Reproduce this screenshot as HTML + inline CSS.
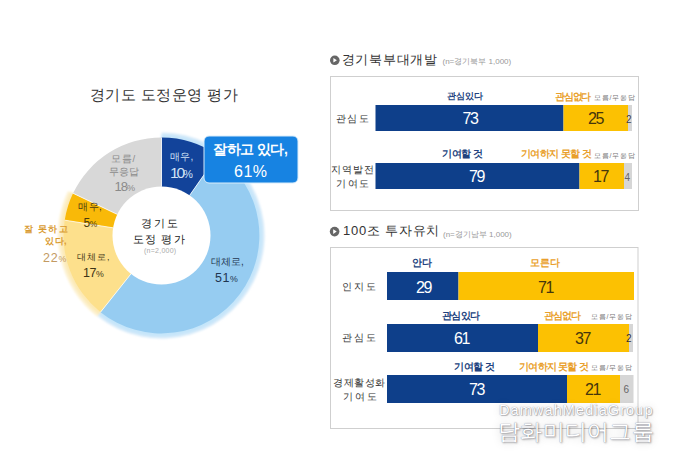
<!DOCTYPE html>
<html><head><meta charset="utf-8">
<style>
*{margin:0;padding:0;box-sizing:border-box}
html,body{width:680px;height:465px;background:#fff;overflow:hidden}
body{position:relative;font-family:"Liberation Sans",sans-serif;color:#333}
.a{position:absolute;white-space:nowrap;line-height:1}
svg{position:absolute;left:0;top:0}
small{font-size:0.7em}
#wm1{text-shadow:0 0 1px rgba(70,70,100,.7),1px 1px 1px rgba(0,0,0,.25),0 0 8px rgba(0,0,0,.2)}
#wm2{text-shadow:0 0 1px rgba(70,70,100,.75),1px 1px 2px rgba(0,0,0,.3),0 0 10px rgba(0,0,0,.22)}
</style></head><body>
<svg width="680" height="465" viewBox="0 0 680 465">
<!-- donut halo -->
<defs><filter id="hb" x="-10%" y="-10%" width="120%" height="120%"><feGaussianBlur stdDeviation="0.9"/></filter></defs>
<g filter="url(#hb)">
<path d="M161.50,132.50 A103,103 0 1 1 97.38,316.11 L101.74,310.63 A96,96 0 1 0 161.50,139.50 Z" fill="#d3e9f9"/>
<path d="M161.50,135.00 A100.5,100.5 0 1 1 98.94,314.15 L101.74,310.63 A96,96 0 1 0 161.50,139.50 Z" fill="#c4e5fa"/>
<path d="M97.07,316.50 A103.5,103.5 0 0 1 68.08,190.94 L74.85,194.17 A96,96 0 0 0 101.74,310.63 Z" fill="#fdf1cf"/>
<path d="M98.94,314.15 A100.5,100.5 0 0 1 70.79,192.23 L74.85,194.17 A96,96 0 0 0 101.74,310.63 Z" fill="#fce9b4"/>
</g>
<!-- donut -->
<path d="M161.50,137.50 A98,98 0 0 1 217.71,155.22 L189.03,196.18 A48,48 0 0 0 161.50,187.50 Z" fill="#12439a"/>
<path d="M217.71,155.22 A98,98 0 1 1 100.49,312.20 L131.62,273.07 A48,48 0 1 0 189.03,196.18 Z" fill="#96ccf1"/>
<path d="M100.49,312.20 A98,98 0 0 1 64.71,220.17 L114.09,227.99 A48,48 0 0 0 131.62,273.07 Z" fill="#fde08c"/>
<path d="M64.71,220.17 A98,98 0 0 1 73.05,193.31 L118.18,214.84 A48,48 0 0 0 114.09,227.99 Z" fill="#f9b908"/>
<path d="M73.05,193.31 A98,98 0 0 1 161.50,137.50 L161.50,187.50 A48,48 0 0 0 118.18,214.84 Z" fill="#d8d8d8"/>
<line x1="161.50" y1="186.50" x2="161.50" y2="137.50" stroke="#fff" stroke-opacity=".75" stroke-width="1"/>
<line x1="189.61" y1="195.36" x2="217.71" y2="155.22" stroke="#fff" stroke-opacity=".75" stroke-width="1"/>
<line x1="131.00" y1="273.85" x2="100.49" y2="312.20" stroke="#fff" stroke-opacity=".75" stroke-width="1"/>
<line x1="113.10" y1="227.83" x2="64.71" y2="220.17" stroke="#fff" stroke-opacity=".75" stroke-width="1"/>
<line x1="117.27" y1="214.40" x2="73.05" y2="193.31" stroke="#fff" stroke-opacity=".75" stroke-width="1"/>
<circle cx="161.5" cy="235.5" r="49" fill="#fff"/>
<!-- callout -->
<rect x="204" y="136" width="94" height="47" rx="5" fill="#1783e2" stroke="#d8ecfb" stroke-width="1"/>
<!-- panel boxes -->
<rect x="330.5" y="76.5" width="308" height="134" fill="none" stroke="#cfcfcf" stroke-width="1"/>
<rect x="330.5" y="247.5" width="307.5" height="181" fill="none" stroke="#cfcfcf" stroke-width="1"/>
<!-- icons -->
<circle cx="334.8" cy="60.3" r="4.8" fill="#666"/><path d="M333.4,58 L336.9,60.3 L333.4,62.6 Z" fill="#fff"/>
<circle cx="334.6" cy="231.6" r="4.8" fill="#666"/><path d="M333.2,229.3 L336.7,231.6 L333.2,233.9 Z" fill="#fff"/>
<!-- panel1 bars -->
<rect x="375.5" y="105" width="188" height="26" fill="#0e3f8a"/>
<rect x="563.5" y="105" width="64.5" height="26" fill="#fcc102"/>
<rect x="628" y="105" width="4" height="26" fill="#d6d6d6"/>
<rect x="375.5" y="163" width="204" height="26" fill="#0e3f8a"/>
<rect x="579.5" y="163" width="44.5" height="26" fill="#fcc102"/>
<rect x="624" y="163" width="8" height="26" fill="#d6d6d6"/>
<!-- panel2 bars -->
<rect x="387" y="272" width="71.5" height="28" fill="#0e3f8a"/>
<rect x="458.5" y="272" width="175.5" height="28" fill="#fcc102"/>
<rect x="387" y="324" width="151" height="28" fill="#0e3f8a"/>
<rect x="538" y="324" width="91" height="28" fill="#fcc102"/>
<rect x="629" y="324" width="4" height="28" fill="#d6d6d6"/>
<rect x="387" y="375" width="180" height="28" fill="#0e3f8a"/>
<rect x="567" y="375" width="53" height="28" fill="#fcc102"/>
<rect x="620" y="375" width="13.5" height="28" fill="#d6d6d6"/>
</svg>
<div class="a" id="title" style="left:89.5px;top:87.0px;font-size:15px;color:#333;letter-spacing:0.5px">경기도 도정운영 평가</div>
<div class="a" id="call1" style="left:213.0px;top:142.0px;font-size:14px;color:#fff;letter-spacing:-0.5px;font-weight:700">잘하고 있다,</div>
<div class="a" id="call2" style="left:234.0px;top:163.5px;font-size:16px;color:#fff;letter-spacing:0.5px">61%</div>
<div class="a" id="b10a" style="left:169.5px;top:151.5px;font-size:10px;color:#d0e2f6;letter-spacing:0.5px">매우,</div>
<div class="a" id="b10b" style="left:170.0px;top:165.0px;font-size:15.5px;color:#d0e2f6;letter-spacing:-2.0px">10<small>%</small></div>
<div class="a" id="g1" style="left:111.0px;top:154.0px;font-size:9.5px;color:#8a8a8a;letter-spacing:0.8px">모름/</div>
<div class="a" id="g2" style="left:108.5px;top:166.5px;font-size:9.5px;color:#8a8a8a;letter-spacing:0.3px">무응답</div>
<div class="a" id="g3" style="left:114.5px;top:180.0px;font-size:13px;color:#8a8a8a;letter-spacing:-1.0px">18<small>%</small></div>
<div class="a" id="y5a" style="left:78.0px;top:201.5px;font-size:10px;color:#4a3a10;letter-spacing:0.5px">매우,</div>
<div class="a" id="y5b" style="left:83.5px;top:217.0px;font-size:12px;color:#4a3a10;letter-spacing:-0.5px">5<small>%</small></div>
<div class="a" id="y17a" style="left:77.0px;top:252.5px;font-size:9px;color:#3e3416;letter-spacing:1.0px">대체로,</div>
<div class="a" id="y17b" style="left:83.0px;top:267.0px;font-size:12.5px;color:#3e3416;letter-spacing:-0.5px">17<small>%</small></div>
<div class="a" id="b51a" style="left:211.0px;top:256.5px;font-size:10px;color:#1f3550">대체로,</div>
<div class="a" id="b51b" style="left:215.0px;top:272.0px;font-size:12.5px;color:#1f3550;letter-spacing:0.5px">51<small>%</small></div>
<div class="a" id="o1" style="left:24.0px;top:225.0px;font-size:9px;color:#d99a30;letter-spacing:1.25px;font-weight:700">잘 못하고</div>
<div class="a" id="o2" style="left:45.0px;top:237.0px;font-size:9px;color:#d99a30;letter-spacing:0.5px;font-weight:700">있다,</div>
<div class="a" id="o3" style="left:43.0px;top:251.5px;font-size:12.5px;color:#c39a62;letter-spacing:0.75px">22<small>%</small></div>
<div class="a" id="c1" style="left:140.5px;top:218.0px;font-size:11px;color:#1a1a1a;letter-spacing:2.25px">경기도</div>
<div class="a" id="c2" style="left:132.5px;top:233.5px;font-size:11px;color:#1a1a1a;letter-spacing:1.25px">도정 평가</div>
<div class="a" id="c3" style="left:144.0px;top:247.0px;font-size:7px;color:#aaa;letter-spacing:0.25px">(n=2,000)</div>
<div class="a" id="h1" style="left:341.5px;top:53.0px;font-size:13px;color:#333;letter-spacing:0.75px">경기북부대개발</div>
<div class="a" id="n1" style="left:442.5px;top:57.5px;font-size:8px;color:#999">(n=경기북부 1,000)</div>
<div class="a" id="p1a" style="left:447.0px;top:92.0px;font-size:8.5px;color:#22427e;font-weight:700">관심있다</div>
<div class="a" id="p1b" style="left:555.0px;top:91.5px;font-size:10px;color:#e99f2c;letter-spacing:-1.25px;font-weight:700">관심없다</div>
<div class="a" id="p1c" style="left:594.0px;top:94.0px;font-size:7px;color:#777;letter-spacing:0.75px">모름/무응답</div>
<div class="a" id="p1l" style="left:335.5px;top:114.0px;font-size:10px;color:#333;letter-spacing:1.75px">관심도</div>
<div class="a" id="p1v1" style="left:462.5px;top:111.0px;font-size:16px;color:#fff;letter-spacing:-1.5px">73</div>
<div class="a" id="p1v2" style="left:588.0px;top:111.0px;font-size:16px;color:#45360c;letter-spacing:-1.5px">25</div>
<div class="a" id="p2a" style="left:442.0px;top:149.0px;font-size:10px;color:#22427e;letter-spacing:-0.5px;font-weight:700">기여할 것</div>
<div class="a" id="p2b" style="left:520.5px;top:149.0px;font-size:10px;color:#e99f2c;letter-spacing:-0.5px;font-weight:700">기여하지 못할 것</div>
<div class="a" id="p2c" style="left:594.0px;top:151.5px;font-size:7px;color:#777;letter-spacing:0.75px">모름/무응답</div>
<div class="a" id="p2l1" style="left:331.0px;top:165.0px;font-size:10px;color:#333;letter-spacing:1.0px">지역발전</div>
<div class="a" id="p2l2" style="left:336.0px;top:178.5px;font-size:10px;color:#333;letter-spacing:1.5px">기여도</div>
<div class="a" id="p2v1" style="left:469.0px;top:168.5px;font-size:16px;color:#fff;letter-spacing:-1.5px">79</div>
<div class="a" id="p2v2" style="left:593.0px;top:168.5px;font-size:16px;color:#45360c;letter-spacing:-1.5px">17</div>
<div class="a" id="h2" style="left:343.0px;top:224.0px;font-size:13px;color:#333;letter-spacing:0.75px">100조 투자유치</div>
<div class="a" id="n2" style="left:443.0px;top:230.5px;font-size:8px;color:#999">(n=경기남부 1,000)</div>
<div class="a" id="q1a" style="left:411.5px;top:258.0px;font-size:10px;color:#22427e;font-weight:700">안다</div>
<div class="a" id="q1b" style="left:530.0px;top:258.0px;font-size:10px;color:#e99f2c;font-weight:700">모른다</div>
<div class="a" id="q1l" style="left:342.0px;top:281.5px;font-size:10px;color:#333;letter-spacing:2px">인지도</div>
<div class="a" id="q1v1" style="left:416.0px;top:279.5px;font-size:16px;color:#fff;letter-spacing:-1.5px">29</div>
<div class="a" id="q1v2" style="left:538.0px;top:279.5px;font-size:16px;color:#45360c;letter-spacing:-1.5px">71</div>
<div class="a" id="q2a" style="left:442.0px;top:310.5px;font-size:10px;color:#22427e;letter-spacing:-0.75px;font-weight:700">관심있다</div>
<div class="a" id="q2b" style="left:544.0px;top:310.5px;font-size:10px;color:#e99f2c;letter-spacing:-1.0px;font-weight:700">관심없다</div>
<div class="a" id="q2c" style="left:591.0px;top:312.5px;font-size:7px;color:#777;letter-spacing:0.75px">모름/무응답</div>
<div class="a" id="q2l" style="left:342.0px;top:332.5px;font-size:10px;color:#333;letter-spacing:2.0px">관심도</div>
<div class="a" id="q2v1" style="left:454.0px;top:331.0px;font-size:16px;color:#fff;letter-spacing:-1.5px">61</div>
<div class="a" id="q2v2" style="left:575.0px;top:331.0px;font-size:16px;color:#45360c;letter-spacing:-1.5px">37</div>
<div class="a" id="q3a" style="left:454.0px;top:362.0px;font-size:10px;color:#22427e;letter-spacing:-0.5px;font-weight:700">기여할 것</div>
<div class="a" id="q3b" style="left:519.0px;top:362.0px;font-size:10px;color:#e99f2c;letter-spacing:-0.75px;font-weight:700">기여하지 못할 것</div>
<div class="a" id="q3c" style="left:591.0px;top:364.0px;font-size:7px;color:#777;letter-spacing:0.75px">모름/무응답</div>
<div class="a" id="q3l1" style="left:333.0px;top:378.0px;font-size:10px;color:#333;letter-spacing:0.5px">경제활성화</div>
<div class="a" id="q3l2" style="left:343.0px;top:391.5px;font-size:10px;color:#333;letter-spacing:1.75px">기여도</div>
<div class="a" id="q3v1" style="left:469.0px;top:382.0px;font-size:16px;color:#fff;letter-spacing:-1.5px">73</div>
<div class="a" id="q3v2" style="left:585.0px;top:382.0px;font-size:16px;color:#45360c;letter-spacing:-1.5px">21</div>
<div class="a" id="p1v3" style="left:626.0px;top:115.0px;font-size:10px;color:#444">2</div>
<div class="a" id="p2v3" style="left:624.5px;top:173.0px;font-size:10px;color:#666">4</div>
<div class="a" id="q2v3" style="left:626.0px;top:334.0px;font-size:10px;color:#333">2</div>
<div class="a" id="q3v3" style="left:623.5px;top:385.0px;font-size:10px;color:#666">6</div>
<div class="a" id="wm1" style="left:499.0px;top:403.0px;font-size:14.5px;color:#fff;letter-spacing:1.1px">DamwahMediaGroup</div>
<div class="a" id="wm2" style="left:498.0px;top:421.0px;font-size:22px;color:#fff;letter-spacing:0.25px">담화미디어그룹</div>
</body></html>
